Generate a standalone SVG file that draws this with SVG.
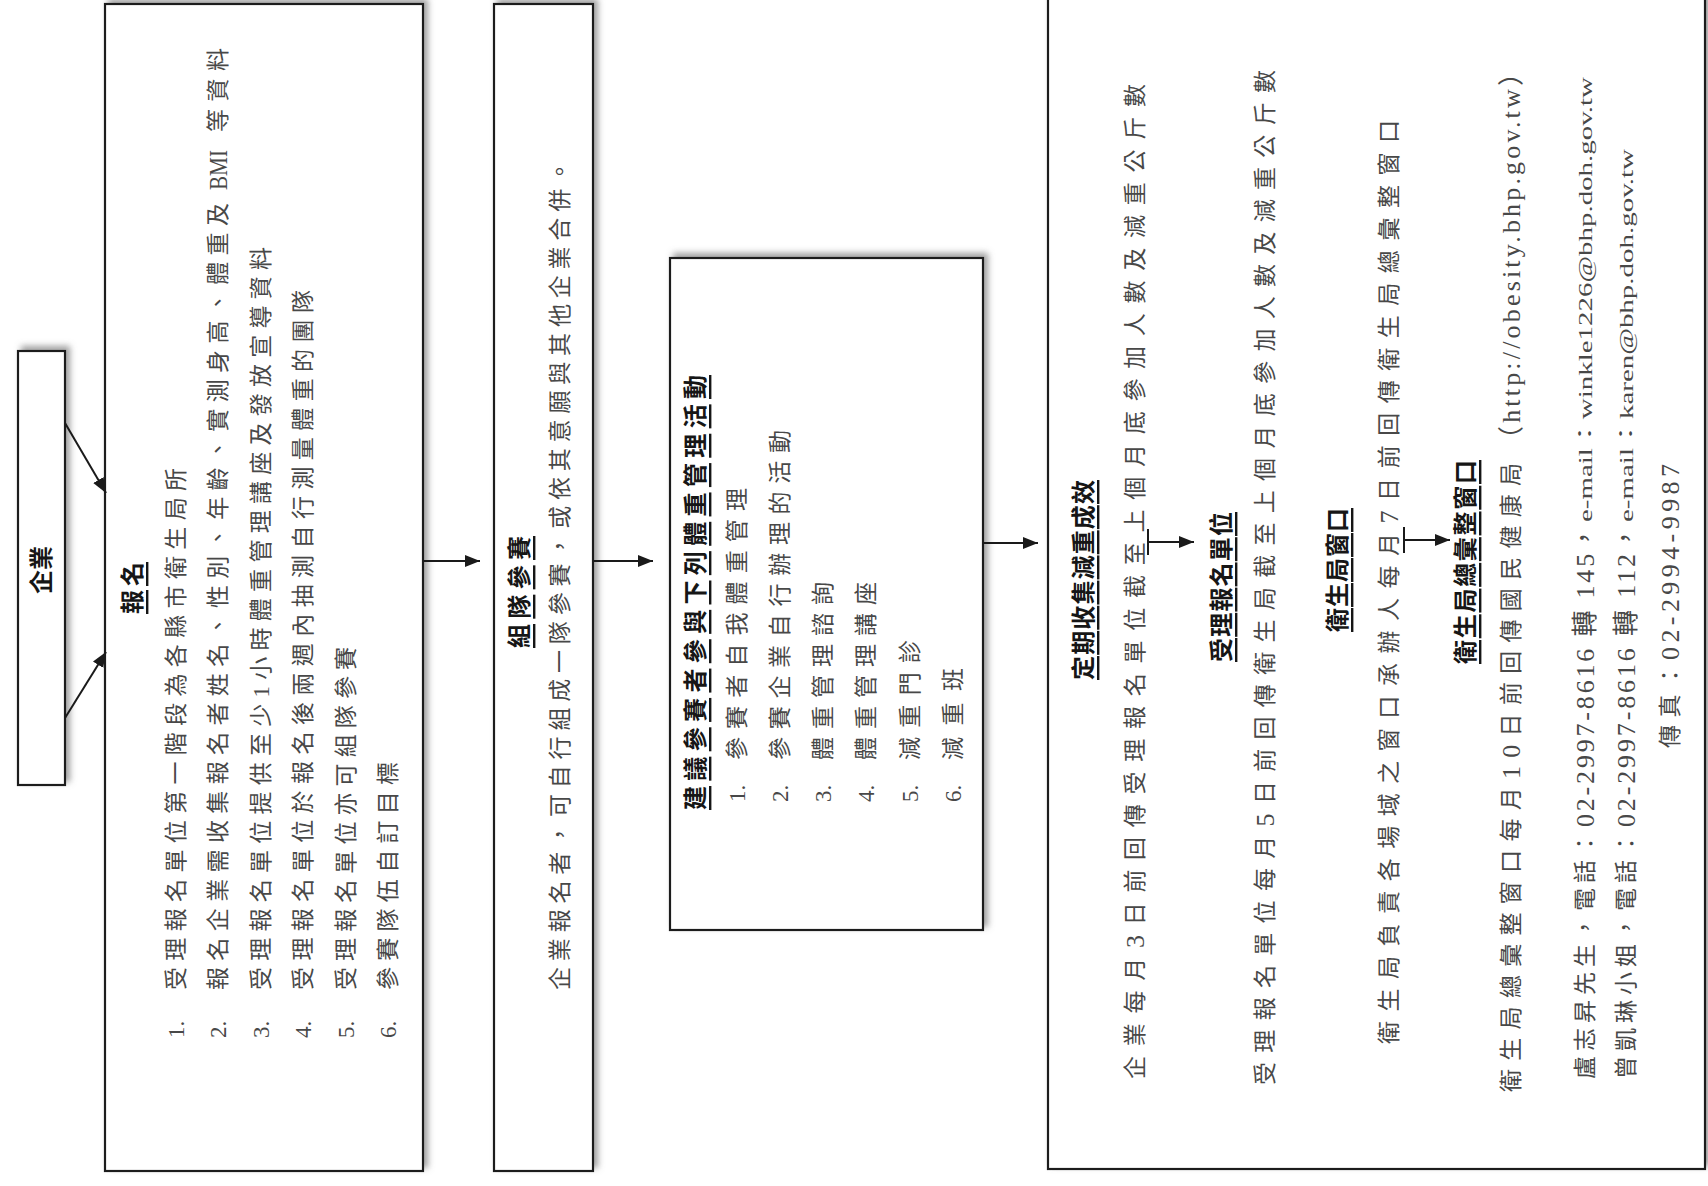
<svg xmlns="http://www.w3.org/2000/svg" width="1708" height="1186" viewBox="0 0 1708 1186">
<style>
.box{fill:#fff;stroke:#1e1e1e;stroke-width:2.2;filter:url(#sh)}
.t{font-family:"Liberation Serif","Noto Sans CJK TC",serif;font-size:23px;fill:#484848;dominant-baseline:central}
.h{font-size:24px;font-weight:bold;fill:#161616;text-decoration:underline}
.m{text-anchor:middle}
.c{stroke:#1a1a1a;stroke-width:2;fill:none}
.em{font-size:19px}
.url{font-size:26px}
.d{font-size:26px}
</style>
<defs>
<filter id="sh" x="-40%" y="-6%" width="180%" height="112%"><feDropShadow dx="4" dy="-4" stdDeviation="3" flood-color="#777" flood-opacity="0.7"/></filter>
<marker id="ah" markerWidth="16" markerHeight="14" refX="15" refY="7" orient="auto" markerUnits="userSpaceOnUse"><path d="M0,1 L15,7 L0,13 Z" fill="#1a1a1a"/></marker>
</defs>
<rect width="1708" height="1186" fill="#fff"/>

<g id="n-qiye">
<rect class="box" x="18" y="351" width="47" height="434"/>
<text class="t h m" style="text-decoration:none" transform="translate(42 570) rotate(-90)">企業</text>
</g>

<g id="n-baoming">
<rect class="box" x="105" y="4" width="318" height="1167"/>
<text class="t h" transform="translate(133 614) rotate(-90)" textLength="52" lengthAdjust="spacing">報名</text>
<text class="t" transform="translate(176 1038) rotate(-90)">1.</text>
<text class="t" transform="translate(218 1038) rotate(-90)">2.</text>
<text class="t" transform="translate(261 1038) rotate(-90)">3.</text>
<text class="t" transform="translate(303 1038) rotate(-90)">4.</text>
<text class="t" transform="translate(346 1038) rotate(-90)">5.</text>
<text class="t" transform="translate(388 1038) rotate(-90)">6.</text>
<text class="t" transform="translate(176 990) rotate(-90)" textLength="522" lengthAdjust="spacing">受理報名單位第一階段為各縣市衛生局所</text>
<text class="t" transform="translate(218 990) rotate(-90)" textLength="787" lengthAdjust="spacing">報名企業需收集報名者姓名、性別、年齡、實測身高、體重及</text>
<text class="t d" transform="translate(218 190) rotate(-90)" textLength="40" lengthAdjust="spacingAndGlyphs">BMI</text>
<text class="t" transform="translate(218 132) rotate(-90)" textLength="84" lengthAdjust="spacing">等資料</text>
<text class="t" transform="translate(261 990) rotate(-90)" textLength="743" lengthAdjust="spacing">受理報名單位提供至少1小時體重管理講座及發放宣導資料</text>
<text class="t" transform="translate(303 990) rotate(-90)" textLength="700" lengthAdjust="spacing">受理報名單位於報名後兩週內抽測自行測量體重的團隊</text>
<text class="t" transform="translate(346 990) rotate(-90)" textLength="343" lengthAdjust="spacing">受理報名單位亦可組隊參賽</text>
<text class="t" transform="translate(388 990) rotate(-90)" textLength="228" lengthAdjust="spacing">參賽隊伍自訂目標</text>
</g>

<g id="n-zudui">
<rect class="box" x="494" y="4" width="99" height="1167"/>
<text class="t h" transform="translate(520 648) rotate(-90)" textLength="112" lengthAdjust="spacing">組隊參賽</text>
<text class="t" transform="translate(560 990) rotate(-90)" textLength="830" lengthAdjust="spacing">企業報名者，可自行組成一隊參賽，或依其意願與其他企業合併。</text>
</g>

<g id="n-huodong">
<rect class="box" x="670" y="258" width="313" height="672"/>
<text class="t h" transform="translate(696 810) rotate(-90)" textLength="435" lengthAdjust="spacing">建議參賽者參與下列體重管理活動</text>
<text class="t" transform="translate(737 802) rotate(-90)">1.</text>
<text class="t" transform="translate(780 802) rotate(-90)">2.</text>
<text class="t" transform="translate(823 802) rotate(-90)">3.</text>
<text class="t" transform="translate(866 802) rotate(-90)">4.</text>
<text class="t" transform="translate(910 802) rotate(-90)">5.</text>
<text class="t" transform="translate(953 802) rotate(-90)">6.</text>
<text class="t" transform="translate(737 760) rotate(-90)" textLength="272" lengthAdjust="spacing">參賽者自我體重管理</text>
<text class="t" transform="translate(780 760) rotate(-90)" textLength="330" lengthAdjust="spacing">參賽企業自行辦理的活動</text>
<text class="t" transform="translate(823 760) rotate(-90)" textLength="178" lengthAdjust="spacing">體重管理諮詢</text>
<text class="t" transform="translate(866 760) rotate(-90)" textLength="178" lengthAdjust="spacing">體重管理講座</text>
<text class="t" transform="translate(910 760) rotate(-90)" textLength="120" lengthAdjust="spacing">減重門診</text>
<text class="t" transform="translate(953 760) rotate(-90)" textLength="92" lengthAdjust="spacing">減重班</text>
</g>

<g id="n-chengxiao">
<rect class="box" x="1048" y="-4" width="657" height="1173"/>
<text class="t h" transform="translate(1084 680) rotate(-90)" textLength="200" lengthAdjust="spacing">定期收集減重成效</text>
<text class="t" transform="translate(1135 1079) rotate(-90)" textLength="995" lengthAdjust="spacing">企業每月<tspan class="d">3</tspan>日前回傳受理報名單位截至上個月底參加人數及減重公斤數</text>
<text class="t h" transform="translate(1222 662) rotate(-90)" textLength="150" lengthAdjust="spacing">受理報名單位</text>
<text class="t" transform="translate(1265 1085) rotate(-90)" textLength="1015" lengthAdjust="spacing">受理報名單位每月<tspan class="d">5</tspan>日前回傳衛生局截至上個月底參加人數及減重公斤數</text>
<text class="t h" transform="translate(1338 632) rotate(-90)" textLength="124" lengthAdjust="spacing">衛生局窗口</text>
<text class="t" transform="translate(1389 1044) rotate(-90)" textLength="924" lengthAdjust="spacing">衛生局負責各場域之窗口承辦人每月<tspan class="d">7</tspan>日前回傳衛生局總彙整窗口</text>
<text class="t h" transform="translate(1466 664) rotate(-90)" textLength="204" lengthAdjust="spacing">衛生局總彙整窗口</text>
<text class="t" transform="translate(1511 1092) rotate(-90)" textLength="629" lengthAdjust="spacing">衛生局總彙整窗口每月<tspan class="d">10</tspan>日前回傳國民健康局</text>
<text class="t url" transform="translate(1511 452) rotate(-90)" textLength="392" lengthAdjust="spacing">（http://obesity.bhp.gov.tw）</text>
<text class="t" transform="translate(1585 1079) rotate(-90)" textLength="247" lengthAdjust="spacing">盧志昇先生，電話：</text>
<text class="t d" transform="translate(1585 827) rotate(-90)" textLength="302" lengthAdjust="spacing">02-2997-8616 轉 145，</text>
<text class="t em" transform="translate(1585 522) rotate(-90)" textLength="445" lengthAdjust="spacingAndGlyphs">e-mail：winkle1226@bhp.doh.gov.tw</text>
<text class="t" transform="translate(1626 1079) rotate(-90)" textLength="247" lengthAdjust="spacing">曾凱琳小姐，電話：</text>
<text class="t d" transform="translate(1626 827) rotate(-90)" textLength="302" lengthAdjust="spacing">02-2997-8616 轉 112，</text>
<text class="t em" transform="translate(1626 522) rotate(-90)" textLength="373" lengthAdjust="spacingAndGlyphs">e-mail：karen@bhp.doh.gov.tw</text>
<text class="t" transform="translate(1670 748) rotate(-90)" textLength="84" lengthAdjust="spacing">傳真：</text>
<text class="t d" transform="translate(1670 660) rotate(-90)" textLength="196" lengthAdjust="spacing">02-2994-9987</text>
</g>

<g id="connectors">
<line class="c" x1="65" y1="423" x2="106" y2="493" marker-end="url(#ah)"/>
<line class="c" x1="65" y1="718" x2="106" y2="652" marker-end="url(#ah)"/>
<line class="c" x1="423" y1="561" x2="480" y2="561" marker-end="url(#ah)"/>
<line class="c" x1="593" y1="561" x2="653" y2="561" marker-end="url(#ah)"/>
<line class="c" x1="983" y1="543" x2="1038" y2="543" marker-end="url(#ah)"/>
<line class="c" x1="1148" y1="529" x2="1148" y2="555"/>
<line class="c" x1="1148" y1="542" x2="1194" y2="542" marker-end="url(#ah)"/>
<line class="c" x1="1404" y1="527" x2="1404" y2="553"/>
<line class="c" x1="1404" y1="540" x2="1450" y2="540" marker-end="url(#ah)"/>
</g>
</svg>
